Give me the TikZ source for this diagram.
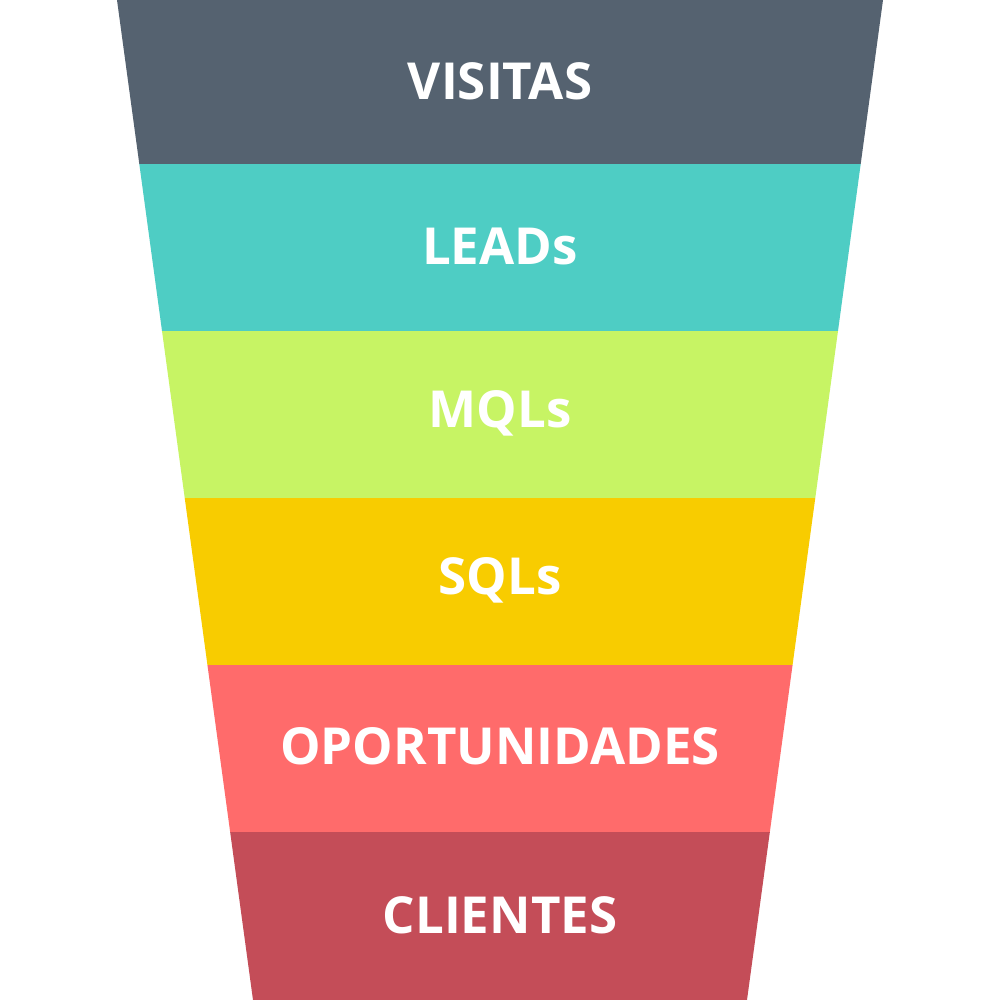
\documentclass[tikz,border=0pt]{standalone}
\usepackage{fontspec}
\setmainfont{Open Sans}
\definecolor{cA}{HTML}{556270}
\definecolor{cB}{HTML}{4ECDC4}
\definecolor{cC}{HTML}{C7F464}
\definecolor{cD}{HTML}{F8CC00}
\definecolor{cE}{HTML}{FF6B6B}
\definecolor{cF}{HTML}{C44D58}
\tikzset{lbl/.style={text=white,font=\fontsize{14.5}{17}\selectfont\bfseries,inner sep=0pt}}
\begin{document}
\begin{tikzpicture}[x=0.01cm,y=-0.01cm]
\useasboundingbox (0,0) rectangle (1000,1000);
\fill[white] (0,0) rectangle (1000,1000);
\def\lx#1{117+0.136*#1}
\def\rx#1{883-0.136*#1}
\foreach \ya/\yb/\c in {0/164/cA,164/331/cB,331/498/cC,498/665/cD,665/832/cE,832/1000/cF}{
  \fill[\c] ({\lx{\ya}},\ya) -- ({\rx{\ya}},\ya) -- ({\rx{\yb}},\yb) -- ({\lx{\yb}},\yb) -- cycle;
}
\node[lbl] (v) at (500,81) {VISITAS};
\node[lbl] (l) at (500,246) {LEADs};
\node[lbl] (m) at (500,413) {MQLs};
\node[lbl] (s) at (500,580) {SQLs};
\node[lbl] (o) at (500,746) {OPORTUNIDADES};
\node[lbl] (c) at (500,915) {CLIENTES};
\end{tikzpicture}
\end{document}
